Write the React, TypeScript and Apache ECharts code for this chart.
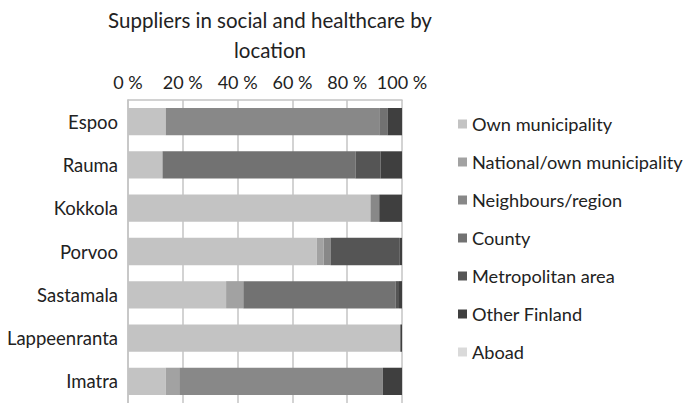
import React, { useEffect, useRef } from "react";
import * as echarts from "echarts";

const categories = ["Espoo", "Rauma", "Kokkola", "Porvoo", "Sastamala", "Lappeenranta", "Imatra"];
const seriesNames = [
  "Own municipality",
  "National/own municipality",
  "Neighbours/region",
  "County",
  "Metropolitan area",
  "Other Finland",
  "Aboad",
];
const ownMunicipality = [13.8, 12.6, 88.5, 68.9, 35.8, 99.4, 13.8];
const nationalOwn = [0, 0, 0, 2.5, 6.3, 0, 4.9];
const neighboursRegion = [77.9, 0, 3.2, 2.5, 0, 0, 74.3];
const county = [3.0, 70.4, 0, 0, 55.5, 0, 0];
const metropolitan = [0, 9.2, 0, 25.3, 1.3, 0, 0];
const otherFinland = [5.3, 7.8, 8.3, 0.8, 1.1, 0.6, 7.0];
const abroad = [0, 0, 0, 0, 0, 0, 0];
const xTicks = ["0 %", "20 %", "40 %", "60 %", "80 %", "100 %"];

const colors = ["#c3c3c3", "#a2a2a2", "#888888", "#727272", "#555555", "#3f3f3f", "#dadada"];
const values = [ownMunicipality, nationalOwn, neighboursRegion, county, metropolitan, otherFinland, abroad];

const FONT = "Lato";

export default function App() {
  const ref = useRef<HTMLDivElement>(null);
  useEffect(() => {
    if (!ref.current) return;
    const chart = echarts.init(ref.current, undefined, { renderer: "svg" });
    chart.setOption({
      animation: false,
      backgroundColor: "#ffffff",
      title: {
        text: "Suppliers in social and healthcare by\nlocation",
        left: 265,
        textAlign: "center",
        top: 0,
        textStyle: { fontFamily: FONT, fontSize: 20.5, fontWeight: "normal", color: "#222", lineHeight: 30 },
      },
      legend: {
        orient: "vertical",
        left: 453,
        top: 110,
        itemWidth: 9,
        itemHeight: 9,
        itemGap: 20,
        icon: "rect",
        textStyle: { fontFamily: FONT, fontSize: 18.2, color: "#222" },
        data: seriesNames,
      },
      grid: { left: 128, top: 100, width: 274, height: 306.6, containLabel: false },
      xAxis: {
        type: "value",
        position: "top",
        min: 0,
        max: 100,
        interval: 20,
        axisLine: { show: true, lineStyle: { color: "#c4c4c4", width: 1.5 } },
        axisTick: { show: false },
        splitLine: { show: true, lineStyle: { color: "#c4c4c4", width: 1.5 } },
        axisLabel: {
          margin: 9,
          fontFamily: FONT,
          fontSize: 18,
          color: "#222",
          formatter: (v: number) => xTicks[Math.round(v / 20)],
        },
      },
      yAxis: {
        type: "category",
        inverse: true,
        data: categories,
        axisLine: { show: true, lineStyle: { color: "#c4c4c4", width: 1.5 } },
        axisTick: { show: false },
        axisLabel: { margin: 10, fontFamily: FONT, fontSize: 18.5, color: "#222" },
      },
      series: seriesNames.map((name, i) => ({
        name,
        type: "bar",
        stack: "total",
        barWidth: "63%",
        data: values[i],
        itemStyle: { color: colors[i] },
      })),
    });
    return () => chart.dispose();
  }, []);
  return <div ref={ref} style={{ position: "fixed", left: 0, top: 0, width: 689, height: 403 }} />;
}
